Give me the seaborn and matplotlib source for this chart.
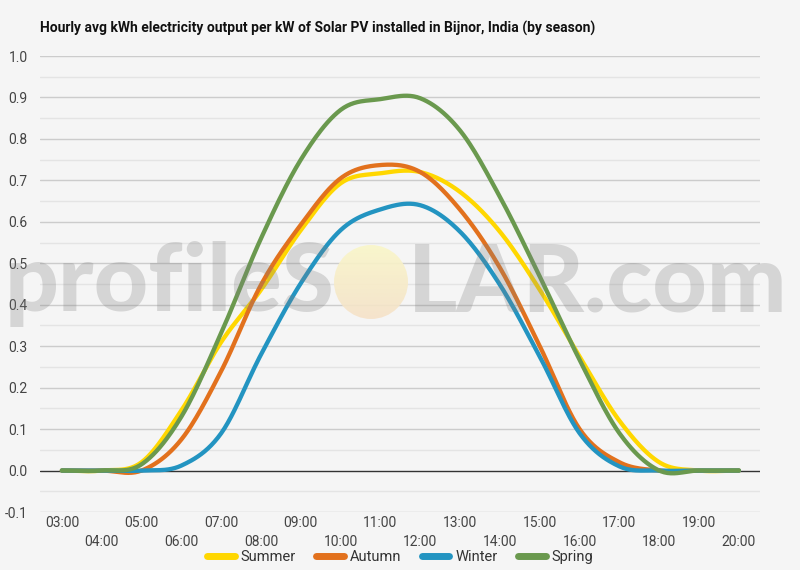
import numpy as np
import pandas as pd
import matplotlib
matplotlib.use("Agg")
import matplotlib.pyplot as plt
from matplotlib.lines import Line2D
from matplotlib.patches import Ellipse
import seaborn as sns

# ---- data ----
hours = list(range(3, 21))
hour_labels = [f"{h:02d}:00" for h in hours]
summer = [0.0, 0.0, 0.02, 0.145, 0.31, 0.436, 0.58, 0.693, 0.717, 0.72, 0.672, 0.576, 0.436, 0.275, 0.12, 0.02, 0.0, 0.0]
autumn = [0.0, 0.0, 0.0, 0.075, 0.24, 0.448, 0.593, 0.705, 0.737, 0.72, 0.629, 0.489, 0.30, 0.10, 0.02, 0.0, 0.0, 0.0]
winter = [0.0, 0.0, 0.0, 0.012, 0.09, 0.28, 0.452, 0.58, 0.63, 0.64, 0.576, 0.448, 0.275, 0.09, 0.01, 0.0, 0.0, 0.0]
spring = [0.0, 0.0, 0.015, 0.13, 0.332, 0.56, 0.75, 0.87, 0.896, 0.898, 0.82, 0.66, 0.468, 0.267, 0.09, 0.0, 0.0, 0.0]
series_names = ["Summer", "Autumn", "Winter", "Spring"]
series_values = [summer, autumn, winter, spring]
colors = ["#FFD700", "#E2711D", "#2394C1", "#6A994E"]
y_ticks = [-0.1, 0.0, 0.1, 0.2, 0.3, 0.4, 0.5, 0.6, 0.7, 0.8, 0.9, 1.0]
title = "Hourly avg kWh electricity output per kW of Solar PV installed in Bijnor, India (by season)"


def smooth_curve(x, y, n=24):
    """Cubic Hermite (Catmull-Rom) display smoothing through the data points."""
    x = np.asarray(x, float)
    y = np.asarray(y, float)
    m = np.zeros_like(y)
    m[1:-1] = (y[2:] - y[:-2]) / 2.0
    xs, ys = [], []
    for i in range(len(x) - 1):
        t = np.linspace(0, 1, n, endpoint=False)
        h00 = 2 * t**3 - 3 * t**2 + 1
        h10 = t**3 - 2 * t**2 + t
        h01 = -2 * t**3 + 3 * t**2
        h11 = t**3 - t**2
        xs.append(x[i] + t * (x[i + 1] - x[i]))
        ys.append(h00 * y[i] + h10 * m[i] + h01 * y[i + 1] + h11 * m[i + 1])
    xs.append([x[-1]])
    ys.append([y[-1]])
    return np.concatenate(xs), np.concatenate(ys)


frames = []
for name, vals in zip(series_names, series_values):
    sx, sy = smooth_curve(hours, vals)
    frames.append(pd.DataFrame({"hour": sx, "value": sy, "season": name}))
df = pd.concat(frames, ignore_index=True)

sns.set_theme(style="white")
plt.rcParams["font.family"] = ["Roboto", "DejaVu Sans"]

bg = "#F5F5F5"
W, H = 800, 570
fig = plt.figure(figsize=(8, 5.7), dpi=100, facecolor=bg)
ax = fig.add_axes([40 / W, 1 - 512 / H, 720 / W, 456 / H])
ax.set_facecolor(bg)

# gridlines
for v in np.arange(-0.1, 1.0001, 0.05):
    if abs(v) < 1e-9:
        continue
    major = abs(round(v * 10) - v * 10) < 1e-6
    ax.axhline(v, color="#CCCCCC" if major else "#E4E4E4", lw=1.0, zorder=0)
ax.axhline(0, color="#333333", lw=1.0, zorder=1)

sns.lineplot(data=df, x="hour", y="value", hue="season", palette=dict(zip(series_names, colors)),
             hue_order=series_names, linewidth=3.1, sort=False, estimator=None,
             legend=False, ax=ax, zorder=3)
for ln in ax.get_lines():
    ln.set_solid_capstyle("round")

ax.set_xlim(2.45, 20.53)
ax.set_ylim(-0.1, 1.0)
ax.set_xticks(hours)
ax.set_xticklabels([lab if (h - 3) % 2 == 0 else "\n" + lab for h, lab in zip(hours, hour_labels)],
                   fontsize=10, color="#444444", linespacing=1.45)
ax.set_yticks(y_ticks)
ax.set_yticklabels([f"{v:.1f}" for v in y_ticks], fontsize=10, color="#444444")
ax.tick_params(axis="both", length=0)
ax.tick_params(axis="x", pad=3)
ax.tick_params(axis="y", pad=9)
for s in ax.spines.values():
    s.set_visible(False)
ax.set_xlabel("")
ax.set_ylabel("")

# watermark (drawn over the lines, semi-transparent)
wm_font = ["Lato", "DejaVu Sans"]
fig.text(334 / W, 1 - 311 / H, "profileS", ha="right", va="baseline", fontsize=68,
         fontweight="black", family=wm_font, color="#808080", alpha=0.27, zorder=10)
fig.text(408 / W, 1 - 311 / H, "LAR.com", ha="left", va="baseline", fontsize=68,
         fontweight="black", family=wm_font, color="#808080", alpha=0.27, zorder=10)
# sun disc with soft yellow-to-peach gradient
cx, cy, r = 371, 282, 37
sun_ax = fig.add_axes([(cx - r) / W, 1 - (cy + r) / H, 2 * r / W, 2 * r / H], zorder=9)
sun_ax.set_axis_off()
grad = np.linspace(0, 1, 64)[:, None]
top = np.array([250, 246, 200]) / 255.0
bot = np.array([245, 226, 200]) / 255.0
img = top[None, None, :] * (1 - grad[..., None]) + bot[None, None, :] * grad[..., None]
img = np.repeat(img, 4, axis=1)
im = sun_ax.imshow(img, extent=[0, 1, 0, 1], origin="upper", aspect="auto", alpha=0.9)
clip = Ellipse((0.5, 0.5), 1.0, 1.0, transform=sun_ax.transAxes, facecolor="none", edgecolor="none")
sun_ax.add_patch(clip)
im.set_clip_path(clip)
sun_ax.patch.set_alpha(0)

fig.text(40 / W, 1 - 28 / H, title, ha="left", va="center", fontsize=10, fontweight="bold",
         color="#111111")

handles = [Line2D([0], [0], color=c, lw=5) for c in colors]
fig.legend(handles, series_names, loc="center", bbox_to_anchor=(400 / W, 1 - 557 / H), ncol=4,
           frameon=False, fontsize=10.5, handlelength=1.9, handletextpad=0.4, columnspacing=1.4,
           labelcolor="#333333")

fig.savefig("out.png", dpi=100, facecolor=bg)
